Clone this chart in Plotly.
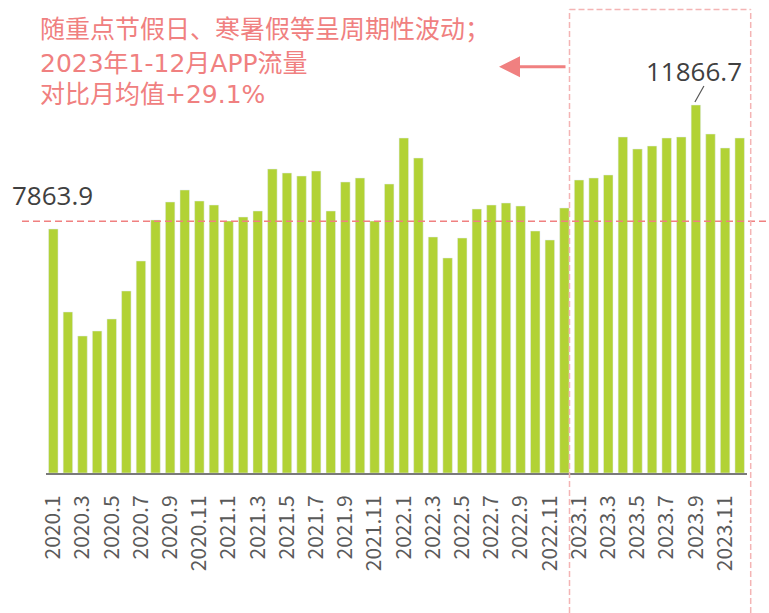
import plotly.graph_objects as go

# ---------------- data ----------------
months = [f"{y}.{m}" for y in range(2020, 2024) for m in range(1, 13)]
traffic = [7623, 5030, 4280, 4436, 4811, 5686, 6623, 7904, 8466, 8841, 8497, 8372,
           7872, 7997, 8185, 9497, 9372, 9278, 9434, 8185, 9091, 9216, 7872, 9028,
           10465, 9840, 7373, 6717, 7341, 8247, 8372, 8435, 8341, 7560, 7279, 8279,
           9153, 9216, 9310, 10497, 10122, 10215, 10465, 10497, 11496, 10590, 10153, 10465]
tick_labels = months[::2]
mean_value = 7863.9
mean_label = "7863.9"
peak_label = "11866.7"
title_lines = ["随重点节假日、寒暑假等呈周期性波动；",
               "2023年1-12月APP流量",
               "对比月均值+29.1%"]

# ---------------- layout geometry ----------------
W, H = 769, 613
L, R, T, B = 46, 22, 9, 140
PW, PH = W - L - R, H - T - B


def fx(px):
    return (px - L) / PW


def fy(py):
    return (H - B - py) / PH


BAR = "#B2D235"
PINK = "#F08080"
BOX = "#F4B4B4"
DARK = "#404040"

fig = go.Figure(go.Bar(x=months, y=traffic, marker_color=BAR, width=0.65,
                       hoverinfo="x+y"))

peak_i = traffic.index(max(traffic))

shapes = [
    # mean line
    dict(type="line", xref="x domain", yref="y", x0=fx(22), x1=fx(769),
         y0=mean_value, y1=mean_value, line=dict(color=PINK, width=1.5, dash="7px,4px")),
    # 2023 box
    dict(type="line", xref="x domain", yref="paper", x0=fx(569.5), x1=fx(569.5),
         y0=fy(613), y1=fy(9.5), line=dict(color=BOX, width=1.5, dash="6px,3px")),
    dict(type="line", xref="x domain", yref="paper", x0=fx(750.7), x1=fx(750.7),
         y0=fy(613), y1=fy(9.5), line=dict(color=BOX, width=1.5, dash="6px,3px")),
    dict(type="line", xref="x domain", yref="paper", x0=fx(569.5), x1=fx(750.7),
         y0=fy(9.5), y1=fy(9.5), line=dict(color=BOX, width=1.5, dash="6px,3px")),
    # peak leader line
    dict(type="line", xref="x", yref="y", xsizemode="pixel", ysizemode="pixel",
         xanchor=peak_i, yanchor=traffic[peak_i], x0=-1, x1=8, y0=3, y1=19,
         line=dict(color="#555555", width=1.2)),
]

title_font = dict(family="DejaVu Sans, Noto Sans CJK SC", size=25, color=PINK)
annotations = []
for line, yc in zip(title_lines, [30, 63, 94]):
    annotations.append(dict(text=line, xref="paper", yref="paper", x=fx(38), y=fy(yc),
                            xanchor="left", yanchor="middle", showarrow=False,
                            font=title_font))
annotations += [
    dict(text=mean_label, xref="paper", yref="y", x=fx(10), y=mean_value, yshift=26,
         xanchor="left", yanchor="middle", showarrow=False,
         font=dict(family="Open Sans", size=26, color=DARK)),
    dict(text=peak_label, xref="x", yref="y", x=peak_i, y=traffic[peak_i], yshift=34,
         xshift=-2, xanchor="center", yanchor="middle", showarrow=False,
         font=dict(family="Open Sans", size=26, color=DARK)),
    dict(text="", xref="paper", yref="paper", x=fx(499), y=fy(66.7), ax=68, ay=0,
         showarrow=True, arrowhead=2, arrowsize=1.4, arrowwidth=3, arrowcolor=PINK,
         standoff=0),
]

fig.update_layout(
    width=W, height=H,
    margin=dict(l=L, r=R, t=T, b=B),
    paper_bgcolor="white", plot_bgcolor="white",
    showlegend=False,
    shapes=shapes,
    annotations=annotations,
    xaxis=dict(type="category", range=[-0.5, len(months) - 0.5],
               showline=True, linecolor="#7a7a7a", linewidth=2,
               showgrid=False, zeroline=False,
               tickmode="array", tickvals=tick_labels, ticktext=tick_labels,
               tickangle=-90, ticks="outside", ticklen=12, tickcolor="rgba(0,0,0,0)",
               tickfont=dict(family="Noto Sans CJK SC", size=21, color="#5a5a5a")),
    yaxis=dict(range=[0, 14495], visible=False, showgrid=False, zeroline=False),
)

fig.write_html("out.html", config={"displayModeBar": False},
               post_script="document.body.style.margin='0';document.body.style.overflow='hidden';")
